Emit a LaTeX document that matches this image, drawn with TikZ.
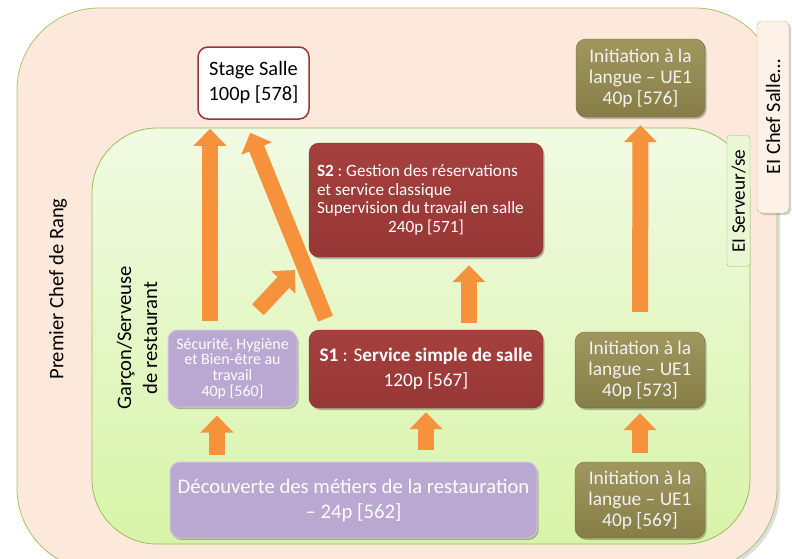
\documentclass[tikz,border=0pt]{standalone}
\usepackage{fontspec}
\setmainfont{Carlito}
\usetikzlibrary{arrows.meta,shadows,calc}
\definecolor{peach}{HTML}{FDE9DB}
\definecolor{peachline}{HTML}{A9C16B}
\definecolor{greentop}{HTML}{F1FAE3}
\definecolor{greenbot}{HTML}{D8F4A8}
\definecolor{greenline}{HTML}{9BBB59}
\definecolor{redtop}{HTML}{A5403E}
\definecolor{redbot}{HTML}{973735}
\definecolor{olivetop}{HTML}{A0975F}
\definecolor{olivebot}{HTML}{877D47}
\definecolor{lav}{HTML}{BAA8D2}
\definecolor{lavline}{HTML}{CFC3E2}
\definecolor{arrorange}{HTML}{F7923C}
\definecolor{stageline}{HTML}{953735}
\definecolor{serveurfill}{HTML}{EAF7D5}
\definecolor{cheffill}{HTML}{FDF1E8}
\definecolor{chefline}{HTML}{AFC08A}
\begin{document}
\begin{tikzpicture}[x=1pt,y=-1pt,
  softshadow/.style={general shadow={fill=black, opacity=0.25, shadow xshift=1.5pt, shadow yshift=-2pt}},
  box/.style={rounded corners=10pt, inner sep=0pt, align=center},
  redbox/.style={box, softshadow, top color=redtop, bottom color=redbot, draw=redbot!90!black, text=white},
  olivebox/.style={box, softshadow, top color=olivetop, bottom color=olivebot, draw=olivebot!85!black, text=white!95!black},
  lavbox/.style={box, softshadow, fill=lav, draw=lavline, line width=1pt, text=white},
  stagebox/.style={box, fill=white, draw=stageline, line width=1.5pt},
  blockarrow/.style={draw=arrorange, line width=16pt, -{Triangle[width=32pt,length=17pt]}},
  sidelabel/.style={rotate=90, inner sep=0pt, align=center}
]
\useasboundingbox (0,0) rectangle (792,558);

% regions
\path[fill=peach, draw=peachline, line width=0.8pt, rounded corners=82pt,
  general shadow={fill=black, opacity=0.13, shadow xshift=3pt, shadow yshift=-3pt}]
  (17,8) rectangle (777,570);
\path[top color=greentop, bottom color=greenbot, draw=greenline, line width=0.8pt, rounded corners=65pt]
  (92,128) rectangle (750,544);

% side labels
\node[sidelabel, font=\fontsize{20.6}{25}\selectfont] (premier) at (58,289) {Premier Chef de Rang};
\node[sidelabel, font=\fontsize{20.6}{26}\selectfont] (garcon) at (137,338) {Garçon/Serveuse\\de restaurant};
\node[sidelabel, draw=greenline, fill=serveurfill, rounded corners=3pt, minimum width=131pt, minimum height=23pt,
  font=\fontsize{19.2}{20}\selectfont] (elserv) at (738.5,201) {EI Serveur/se};
\node[sidelabel, draw=chefline, fill=cheffill, rounded corners=5pt, minimum width=192pt, minimum height=32pt,
  general shadow={fill=black, opacity=0.18, shadow xshift=2pt, shadow yshift=-2pt},
  font=\fontsize{20.4}{22}\selectfont] (elchef) at (773,117) {EI Chef Salle…};

% boxes
\node[stagebox, minimum width=111pt, minimum height=72pt, font=\fontsize{20.4}{25}\selectfont]
  (stage) at (253.5,83) {Stage Salle\\100p [578]};
\node[olivebox, minimum width=129pt, minimum height=78pt, font=\fontsize{19.4}{21}\selectfont]
  (ini576) at (640.5,78) {Initiation à la\\langue – UE1\\40p [576]};
\node[olivebox, minimum width=130pt, minimum height=76pt, font=\fontsize{19.4}{21}\selectfont]
  (ini573) at (640,370) {Initiation à la\\langue – UE1\\40p [573]};
\node[olivebox, minimum width=130pt, minimum height=76pt, font=\fontsize{19.4}{21}\selectfont]
  (ini569) at (640,500) {Initiation à la\\langue – UE1\\40p [569]};
\node[redbox, minimum width=234pt, minimum height=114pt, text width=218pt, align=flush left,
  font=\fontsize{17.2}{18.7}\selectfont] (s2) at (426,200)
  {\textbf{S2}~:~Gestion des réservations\\et service classique\\Supervision du travail en salle\\\hskip0pt plus 1fill 240p [571]\hskip0pt plus 1fill\null};
\node[redbox, minimum width=234pt, minimum height=78pt, font=\fontsize{19.2}{25}\selectfont]
  (s1) at (426,369) {\textbf{S1} : S\textbf{ervice simple de salle}\\120p [567]};
\node[lavbox, minimum width=129pt, minimum height=77pt, font=\fontsize{15.9}{15.6}\selectfont]
  (secu) at (232.5,368.5) {Sécurité, Hygiène\\et Bien-être au\\travail\\40p [560]};
\node[lavbox, minimum width=367pt, minimum height=76pt, font=\fontsize{20.7}{25}\selectfont]
  (decouv) at (353.5,500) {Découverte des métiers de la restauration\\– 24p [562]};

% arrows
\coordinate (a1) at ([xshift=-15.5pt]secu.south);
\draw[blockarrow, shorten <=7pt, shorten >=8pt] (decouv.north -| a1) -- (a1);
\draw[blockarrow, shorten <=12pt, shorten >=4pt] (decouv.north -| s1.south) -- (s1.south);
\draw[blockarrow, shorten <=9pt, shorten >=5pt] (ini569.north) -- (ini573.south);
\coordinate (a4) at ([xshift=43pt]s2.south);
\draw[blockarrow, shorten <=7pt, shorten >=8pt] (s1.north -| a4) -- (a4);
\draw[blockarrow, shorten <=20pt, shorten >=8pt] (ini573.north) -- (ini576.south);
\coordinate (a6) at ([xshift=-43.5pt]stage.south);
\draw[blockarrow, shorten <=9pt, shorten >=9pt] (secu.north -| a6) -- (a6);
\coordinate (a7s) at ([xshift=-96pt]s1.north);
\coordinate (a7e) at ([xshift=-8.5pt]stage.south);
\draw[blockarrow, shorten <=12pt, shorten >=14pt] (a7s) -- (a7e);
\coordinate (a8e) at (295,270);
\draw[blockarrow, shorten <=27pt] ([xshift=7pt]secu.north) -- (a8e);
\end{tikzpicture}
\end{document}
